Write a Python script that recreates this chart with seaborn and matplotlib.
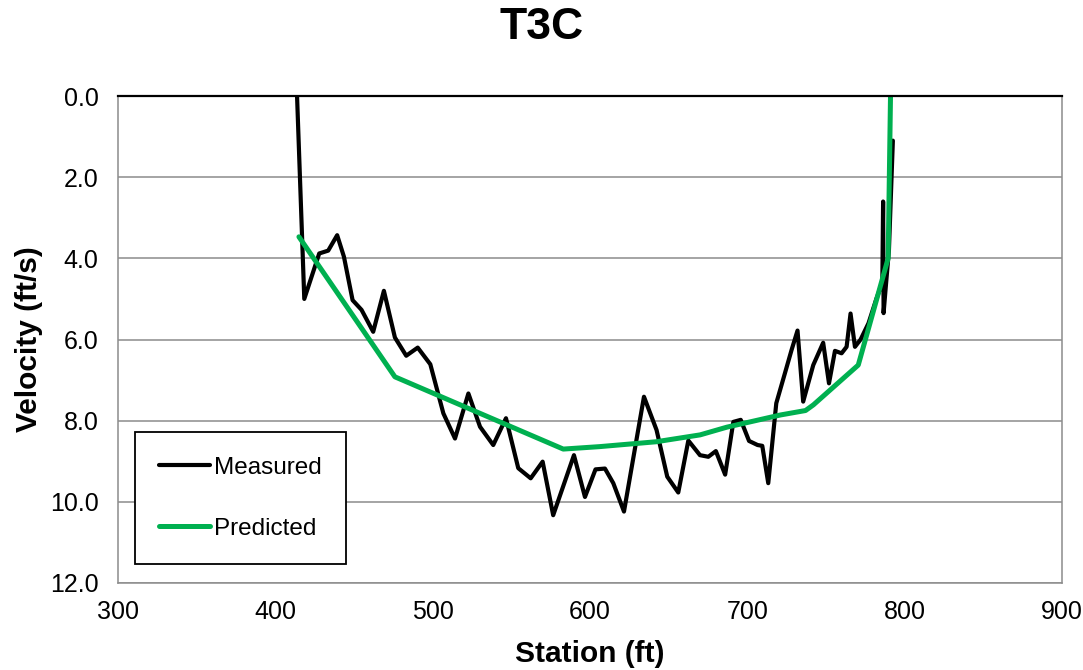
import matplotlib
matplotlib.use("Agg")
import matplotlib.pyplot as plt
import seaborn as sns
import pandas as pd
from matplotlib.ticker import FormatStrFormatter

# ---- data ----
measured_station = [413.8, 418.4, 427.9, 433.6, 439.3, 443.6, 449.1, 454.8, 462.2, 469.0,
                    476.0, 483.2, 490.5, 498.5, 506.8, 514.2, 522.7, 530.1, 538.5, 546.6,
                    554.4, 562.3, 569.9, 576.6, 589.8, 596.8, 603.5, 609.5, 614.8, 621.6,
                    634.3, 642.3, 649.1, 656.1, 662.5, 669.9, 675.2, 680.0, 685.9, 691.1,
                    695.8, 701.1, 706.5, 709.5, 713.3, 718.4, 723.9, 728.1, 731.9, 735.5,
                    741.9, 748.2, 751.9, 755.7, 759.9, 763.1, 765.6, 768.4, 772.0, 777.0,
                    782.0, 785.8, 786.3, 786.6, 788.0, 790.0, 792.5]
measured_velocity = [0.0, 5.0, 3.88, 3.81, 3.43, 3.96, 5.03, 5.27, 5.81, 4.80,
                     5.95, 6.40, 6.20, 6.61, 7.82, 8.44, 7.33, 8.15, 8.60, 7.94,
                     9.17, 9.42, 9.01, 10.33, 8.85, 9.88, 9.20, 9.18, 9.54, 10.24,
                     7.41, 8.23, 9.38, 9.77, 8.49, 8.85, 8.89, 8.75, 9.33, 8.03,
                     7.98, 8.50, 8.60, 8.62, 9.54, 7.57, 6.83, 6.26, 5.78, 7.53,
                     6.63, 6.08, 7.08, 6.28, 6.34, 6.18, 5.36, 6.18, 6.0, 5.6,
                     5.0, 4.6, 2.6, 5.35, 4.7, 3.8, 1.1]

predicted_station = [415, 476, 583, 606, 642, 670, 687, 721, 737, 742, 770.5, 789.5, 791]
predicted_velocity = [3.47, 6.92, 8.70, 8.64, 8.52, 8.35, 8.16, 7.86, 7.75, 7.61, 6.63, 4.0, 0.0]

x_ticks = [300, 400, 500, 600, 700, 800, 900]
y_ticks = [0, 2, 4, 6, 8, 10, 12]

df = pd.concat([
    pd.DataFrame({"Station": measured_station, "Velocity": measured_velocity, "Series": "Measured"}),
    pd.DataFrame({"Station": predicted_station, "Velocity": predicted_velocity, "Series": "Predicted"}),
], ignore_index=True)

sns.set_style("white")
plt.rcParams["font.family"] = ["Liberation Sans", "DejaVu Sans"]
plt.rcParams["text.color"] = "black"
plt.rcParams["axes.labelcolor"] = "black"
plt.rcParams["xtick.color"] = "black"
plt.rcParams["ytick.color"] = "black"

fig = plt.figure(figsize=(10.83, 6.70), dpi=100)
ax = fig.add_axes([118 / 1083, 1 - 583 / 670, (1062 - 118) / 1083, (583 - 96) / 670])

sns.lineplot(data=df, x="Station", y="Velocity", hue="Series",
             palette={"Measured": "#000000", "Predicted": "#00B050"},
             sort=False, estimator=None, ax=ax, legend=True)
for line, lw in zip(ax.lines, [3.0, 3.6]):
    line.set_linewidth(lw)
    line.set_solid_joinstyle("round")

ax.set_xlim(300, 900)
ax.set_ylim(12, 0)
ax.set_xticks(x_ticks)
ax.set_yticks(y_ticks)
ax.yaxis.set_major_formatter(FormatStrFormatter("%.1f"))
ax.yaxis.grid(True, color="#8c8c8c", linewidth=1.1)
ax.xaxis.grid(False)
ax.set_axisbelow(True)

for side in ["left", "right", "bottom"]:
    ax.spines[side].set_color("#8c8c8c")
    ax.spines[side].set_linewidth(1.1)
ax.spines["top"].set_color("#000000")
ax.spines["top"].set_linewidth(1.6)

ax.tick_params(axis="y", direction="in", length=5, color="#8c8c8c", labelcolor="black",
               labelsize=18, pad=14)
ax.tick_params(axis="x", length=0, labelsize=18, labelcolor="black", pad=12)

ax.set_xlabel("Station (ft)", fontsize=21.5, fontweight="bold", labelpad=12, color="black")
ax.set_ylabel("Velocity (ft/s)", fontsize=21.5, fontweight="bold", labelpad=5, color="black")
fig.suptitle("T3C", fontsize=32, fontweight="bold", y=0.99, color="black")

handles, labels = ax.get_legend_handles_labels()
for h, lw in zip(handles, [3.0, 3.6]):
    h.set_linewidth(lw)
leg = ax.legend(handles, labels, loc="lower left", bbox_to_anchor=(0.018, 0.039),
                fontsize=17.5, frameon=True, fancybox=False, borderpad=1.0,
                labelspacing=1.6, handlelength=2.1, handletextpad=0.15,
                borderaxespad=0)
leg.get_frame().set_edgecolor("#000000")
leg.get_frame().set_linewidth(1.3)
leg.get_frame().set_alpha(1)
for t in leg.get_texts():
    t.set_color("black")

fig.savefig("out.png", dpi=100)
